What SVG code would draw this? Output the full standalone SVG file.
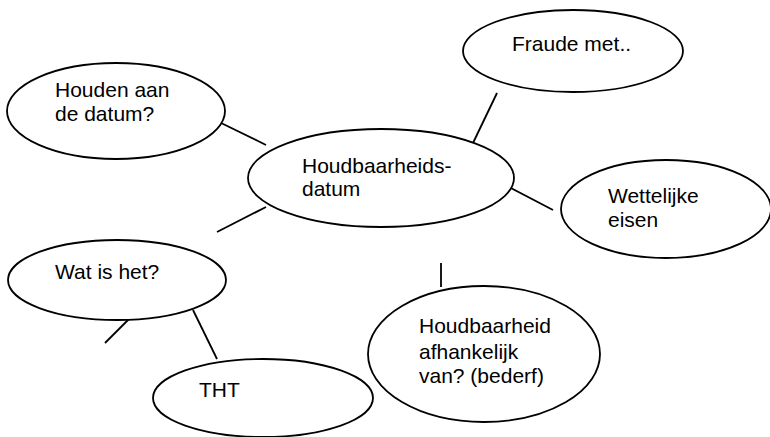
<svg xmlns="http://www.w3.org/2000/svg" width="770" height="437" viewBox="0 0 770 437">
<style>
.n ellipse{fill:#fff;stroke:#000;stroke-width:1.8}
.n text{font-family:"Liberation Sans",Arial,sans-serif;font-size:21px;fill:#000}
#connectors line{stroke:#000;stroke-width:1.8}
</style>
<rect width="770" height="437" fill="#fff"/>
<g id="connectors">
<line x1="217" y1="121" x2="266" y2="145"/>
<line x1="497" y1="93" x2="473" y2="143"/>
<line x1="505" y1="185" x2="553" y2="210"/>
<line x1="266" y1="207" x2="217" y2="232"/>
<line x1="129" y1="319" x2="105" y2="343"/>
<line x1="193" y1="310" x2="217" y2="359"/>
<line x1="441" y1="263" x2="441" y2="287"/>
</g>
<g id="houden" class="n"><ellipse cx="116" cy="111" rx="109" ry="48"/><text x="55" y="97">Houden aan</text><text x="55" y="121">de datum?</text></g>
<g id="center" class="n"><ellipse cx="381" cy="178" rx="133" ry="49"/><text x="302" y="173">Houdbaarheids-</text><text x="302" y="196">datum</text></g>
<g id="fraude" class="n"><ellipse cx="573" cy="51" rx="110" ry="41"/><text x="512" y="51">Fraude met..</text></g>
<g id="wettelijk" class="n"><ellipse cx="666" cy="209" rx="105" ry="49"/><text x="608" y="203">Wettelijke</text><text x="608" y="227">eisen</text></g>
<g id="watishet" class="n"><ellipse cx="117" cy="280" rx="109" ry="40"/><text x="55" y="279">Wat is het?</text></g>
<g id="tht" class="n"><ellipse cx="263" cy="398" rx="110" ry="39"/><text x="199" y="397">THT</text></g>
<g id="afhankelijk" class="n"><ellipse cx="484" cy="354" rx="116" ry="68"/><text x="419" y="333">Houdbaarheid</text><text x="419" y="359">afhankelijk</text><text x="419" y="383">van? (bederf)</text></g>
</svg>
